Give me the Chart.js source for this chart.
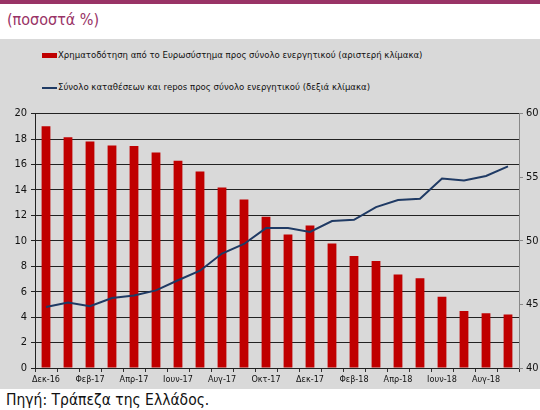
<!DOCTYPE html>
<html>
<head>
<meta charset="utf-8">
<script src="https://cdn.jsdelivr.net/npm/chart.js@4"></script>
<style>
body{margin:0;width:540px;height:410px;overflow:hidden;background:#fff;font-family:"DejaVu Sans Condensed","DejaVu Sans",sans-serif;position:relative}
#bar{position:absolute;left:0;top:0;width:540px;height:4px;background:#993366}
#title{position:absolute;left:7px;top:10px;font-size:16px;color:#993366}
#panel{position:absolute;left:0;top:39px;width:540px;height:350px;background:#d9d9d9}
.leg{position:absolute;left:42px;font-size:9.5px;color:#111;white-space:nowrap}
.leg span{display:inline-block;width:15px;vertical-align:middle;margin-right:1px}
#l1{top:10px}
#l2{top:42px}
#l1 span{height:5px;background:#c00000}
#l2 span{height:2px;background:#1f3a64}
#wrap{position:absolute;left:0;top:64px;width:540px;height:286px}
#src{position:absolute;left:6px;top:391px;font-size:15.5px;color:#111;white-space:nowrap}
</style>
</head>
<body>
<div id="bar"></div>
<div id="title">(ποσοστά %)</div>
<div id="panel">
  <div class="leg" id="l1"><span></span>Χρηματοδότηση από το Ευρωσύστημα προς σύνολο ενεργητικού (αριστερή κλίμακα)</div>
  <div class="leg" id="l2"><span></span>Σύνολο καταθέσεων και repos προς σύνολο ενεργητικού (δεξιά κλίμακα)</div>
  <div id="wrap"><canvas id="c" width="540" height="286"></canvas></div>
</div>
<div id="src">Πηγή: Τράπεζα της Ελλάδος.</div>
<script>
const months=["Δεκ-16","Ιαν-17","Φεβ-17","Μαρ-17","Απρ-17","Μαϊ-17","Ιουν-17","Ιουλ-17","Αυγ-17","Σεπ-17","Οκτ-17","Νοε-17",
  "Δεκ-17","Ιαν-18","Φεβ-18","Μαρ-18","Απρ-18","Μαϊ-18","Ιουν-18","Ιουλ-18","Αυγ-18","Σεπ-18"]
const eurosystem=[19.0,18.15,17.8,17.5,17.45,16.95,16.3,15.45,14.2,13.25,11.9,10.5,11.2,9.78,8.8,8.42,7.35,7.05,5.6,4.48,4.3,4.2]
const deposits=[44.8,45.15,44.85,45.5,45.7,46.1,46.9,47.65,49.0,49.75,51.0,51.0,50.7,51.55,51.65,52.65,53.2,53.3,54.9,54.75,55.1,55.85]
const tickFont={family:"DejaVu Sans Condensed",size:11}

Chart.defaults.color="#111"
new Chart(document.getElementById("c"),{
  data:{labels:months,datasets:[
    {type:"line",label:"Σύνολο καταθέσεων και repos προς σύνολο ενεργητικού (δεξιά κλίμακα)",data:deposits,yAxisID:"y1",
      borderColor:"#1f3a64",borderWidth:2,pointRadius:0,tension:0,order:0},
    {type:"bar",label:"Χρηματοδότηση από το Ευρωσύστημα προς σύνολο ενεργητικού (αριστερή κλίμακα)",data:eurosystem,yAxisID:"y",
      backgroundColor:"#c00000",barPercentage:0.4,categoryPercentage:1,order:1}
  ]},
  options:{
    responsive:false,animation:false,
    layout:{padding:{top:10,left:0,right:0,bottom:0}},
    plugins:{legend:{display:false},tooltip:{enabled:false}},
    scales:{
      x:{grid:{offset:true,drawOnChartArea:false,color:"#333",tickLength:4},
        border:{color:"#222"},
        ticks:{autoSkip:false,maxRotation:0,padding:2,font:{family:"DejaVu Sans Condensed",size:9},
          callback:(v,i)=>i%2===0?months[i]:""},
        afterFit:s=>{s.height=21}},
      y:{position:"left",min:0,max:20,
        ticks:{stepSize:2,font:tickFont,padding:4},
        grid:{color:"#222",tickLength:4},border:{color:"#222"},
        afterFit:s=>{s.width=35}},
      y1:{position:"right",min:40,max:60,
        ticks:{stepSize:5,font:tickFont,padding:3},
        grid:{drawOnChartArea:false,color:"#888",tickLength:4},border:{color:"#888"},
        afterFit:s=>{s.width=21}}
    }
  }
})
</script>
</body>
</html>
